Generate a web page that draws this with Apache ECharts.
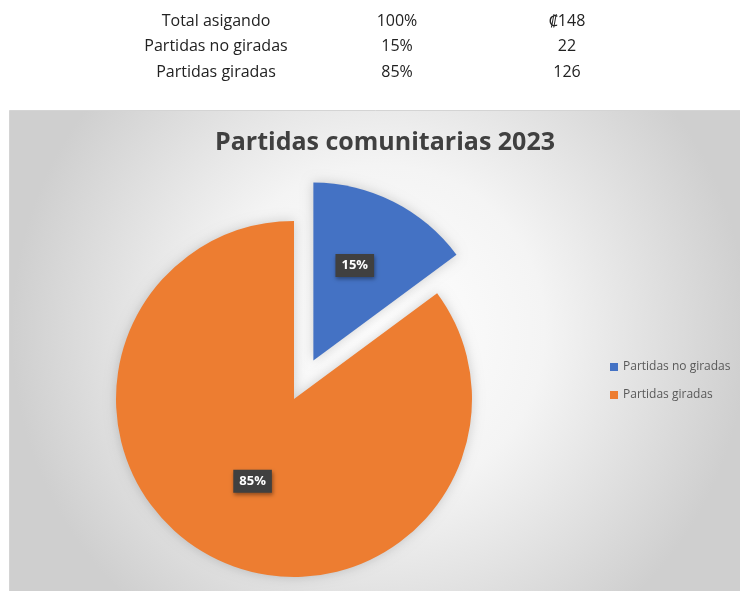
<!DOCTYPE html>
<html>
<head>
<meta charset="utf-8">
<script src="https://cdn.jsdelivr.net/npm/echarts@6/dist/echarts.min.js"></script>
<style>
  html, body { margin: 0; padding: 0; background: #fff; }
  #main { width: 740px; height: 591px; }
</style>
</head>
<body>
<div id="main"></div>
<script>
// tabla de arriba
var tableLabels = ['Total asigando', 'Partidas no giradas', 'Partidas giradas'];
var tablePct = ['100%', '15%', '85%'];
var tableValues = ['₡148', '22', '126'];

// datos del pastel
var categories = ['Partidas no giradas', 'Partidas giradas'];
var values = [22, 126];
var colors = ['#4472C4', '#ED7D31'];

var font = '"Open Sans", "Noto Sans", sans-serif';

// textos de la tabla
var tableGraphics = [];
for (var i = 0; i < tableLabels.length; i++) {
    var y = 21 + i * 25.5;
    var cols = [[216, tableLabels[i]], [397, tablePct[i]], [567, tableValues[i]]];
    for (var j = 0; j < cols.length; j++) {
        tableGraphics.push({
            type: 'text',
            x: cols[j][0],
            y: y,
            style: {
                text: cols[j][1],
                fill: '#222',
                font: '16px ' + font,
                align: 'center',
                verticalAlign: 'middle'
            }
        });
    }
}

var myChart = echarts.init(document.getElementById('main'));

var option = {
    color: colors,
    title: {
        text: 'Partidas comunitarias 2023',
        left: 380,
        top: 125,
        textAlign: 'center',
        textStyle: {
            fontFamily: font,
            fontSize: 25,
            fontWeight: 'bold',
            color: '#404040'
        }
    },
    legend: {
        orient: 'vertical',
        left: 605,
        top: 356,
        itemWidth: 8,
        itemHeight: 8,
        itemGap: 16,
        icon: 'rect',
        textStyle: {
            fontFamily: font,
            fontSize: 12,
            color: '#595959'
        },
        data: categories
    },
    graphic: [
        {
            type: 'rect',
            z: -10,
            silent: true,
            shape: { x: 9.5, y: 110.5, width: 740, height: 490 },
            style: {
                fill: new echarts.graphic.RadialGradient(0.5, 0.45, 0.75, [
                    { offset: 0, color: '#ffffff' },
                    { offset: 0.45, color: '#f4f4f4' },
                    { offset: 1, color: '#cfcfcf' }
                ]),
                stroke: '#d4d4d4',
                lineWidth: 1
            }
        }
    ].concat(tableGraphics),
    series: [
        {
            type: 'pie',
            center: [294, 399],
            radius: 178,
            startAngle: 90,
            clockwise: true,
            selectedMode: 'single',
            selectedOffset: 43,
            percentPrecision: 0,
            itemStyle: {
                shadowBlur: 12,
                shadowColor: 'rgba(0,0,0,0.18)'
            },
            label: {
                position: 'inside',
                formatter: '{d}%',
                color: '#fff',
                fontFamily: font,
                fontSize: 13,
                fontWeight: 'bold',
                backgroundColor: '#404040',
                padding: [5, 6],
                shadowBlur: 4,
                shadowColor: 'rgba(0,0,0,0.4)',
                shadowOffsetX: 1,
                shadowOffsetY: 2
            },
            labelLayout: function (params) {
                // la etiqueta del 15% va más afuera
                if (params.dataIndex === 0) {
                    return { dx: 0, dy: -13 };
                }
                return {};
            },
            labelLine: { show: false },
            emphasis: { scale: false },
            data: [
                { name: categories[0], value: values[0], selected: true },
                { name: categories[1], value: values[1] }
            ]
        }
    ]
};

myChart.setOption(option);
</script>
</body>
</html>
